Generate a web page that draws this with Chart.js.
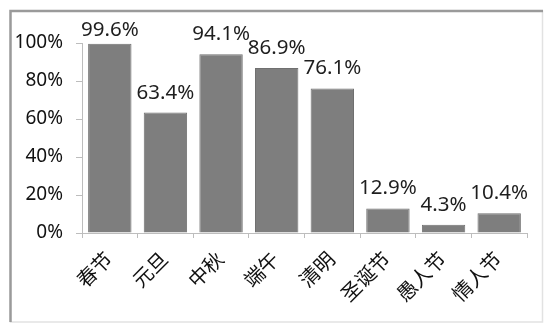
<!DOCTYPE html>
<html>
<head>
<meta charset="utf-8">
<script src="https://cdn.jsdelivr.net/npm/chart.js@4/dist/chart.umd.min.js"></script>
<style>
  html, body { margin: 0; padding: 0; background: #fff; }
  #wrap { position: relative; width: 545px; height: 325px; }
</style>
</head>
<body>
<div id="wrap"><canvas id="festChart" width="545" height="325"></canvas></div>
<script>
// Festival awareness data
const festivals = ['春节', '元旦', '中秋', '端午', '清明', '圣诞节', '愚人节', '情人节'];
const percents = [99.6, 63.4, 94.1, 86.9, 76.1, 12.9, 4.3, 10.4];
const yTicks = [0, 20, 40, 60, 80, 100];

const FONT = '"Noto Sans", "Noto Sans CJK SC", sans-serif';

// Outer frame like the scanned picture
const framePlugin = {
    id: 'frame',
    beforeDraw(chart) {
        const ctx = chart.ctx;
        ctx.save();
        ctx.fillStyle = '#fff';
        ctx.fillRect(0, 0, chart.width, chart.height);
        ctx.strokeStyle = '#e2e2e2';
        ctx.lineWidth = 1.5;
        ctx.strokeRect(10.5, 11, 532, 311);
        ctx.strokeStyle = '#9a9a9a';
        ctx.lineWidth = 2.5;
        ctx.beginPath();
        ctx.moveTo(10.5, 322);
        ctx.lineTo(10.5, 11);
        ctx.lineTo(543, 11);
        ctx.stroke();
        ctx.restore();
    }
};

// Value labels above each bar
const valueLabels = {
    id: 'valueLabels',
    afterDatasetsDraw(chart) {
        const ctx = chart.ctx;
        const meta = chart.getDatasetMeta(0);
        ctx.save();
        ctx.font = '20.5px ' + FONT;
        ctx.fillStyle = '#1e1e1e';
        ctx.textAlign = 'center';
        ctx.textBaseline = 'alphabetic';
        meta.data.forEach((bar, i) => {
            const y = Math.max(bar.y - 14, chart.chartArea.top - 7);
            ctx.fillText(percents[i].toFixed(1) + '%', bar.x, y);
        });
        ctx.restore();
    }
};

const ctx = document.getElementById('festChart').getContext('2d');
new Chart(ctx, {
    type: 'bar',
    data: {
        labels: festivals,
        datasets: [{
            data: percents,
            backgroundColor: '#7e7e7e',
            borderColor: '#707070',
            borderWidth: 1,
            categoryPercentage: 1,
            barPercentage: 0.78
        }]
    },
    options: {
        responsive: false,
        animation: false,
        layout: { padding: { top: 43, right: 18, left: 0, bottom: 0 } },
        plugins: {
            legend: { display: false },
            tooltip: { enabled: false }
        },
        scales: {
            x: {
                grid: {
                    display: true,
                    drawOnChartArea: false,
                    drawTicks: true,
                    tickLength: 5,
                    color: '#bdbdbd',
                    offset: true
                },
                border: { color: '#bdbdbd', width: 1 },
                ticks: {
                    color: '#111',
                    font: { family: FONT, size: 20 },
                    minRotation: 45,
                    maxRotation: 45,
                    autoSkip: false,
                    padding: 10
                },
                afterFit(scale) { scale.height = 92; }
            },
            y: {
                min: 0,
                max: 100,
                afterBuildTicks(scale) {
                    scale.ticks = yTicks.map(v => ({ value: v }));
                },
                grid: {
                    display: true,
                    drawOnChartArea: false,
                    drawTicks: true,
                    tickLength: 6,
                    color: '#bdbdbd'
                },
                border: { color: '#bdbdbd', width: 1 },
                ticks: {
                    color: '#111',
                    font: { family: FONT, size: 19 },
                    padding: 13,
                    callback: v => v + '%'
                },
                afterFit(scale) { scale.width = 82; }
            }
        }
    },
    plugins: [framePlugin, valueLabels]
});
</script>
</body>
</html>
